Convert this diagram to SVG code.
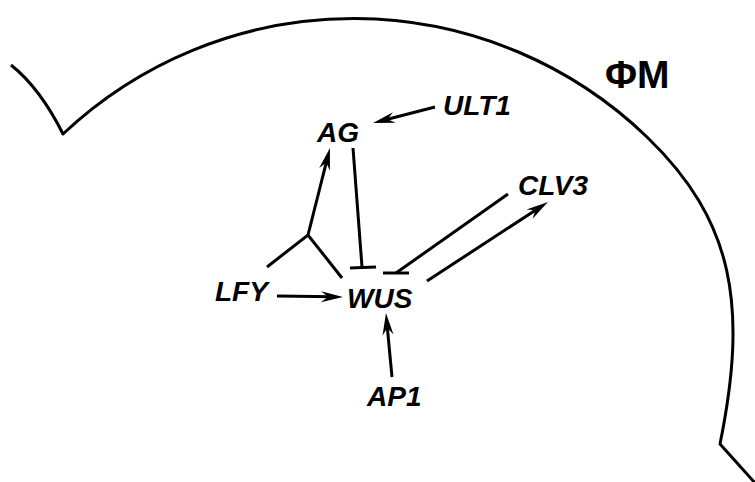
<svg xmlns="http://www.w3.org/2000/svg" width="755" height="482" viewBox="0 0 755 482">
  <style>
    .outline { fill: none; stroke: #000; stroke-width: 3; stroke-linejoin: round; }
    .edge { fill: none; stroke: #000; stroke-width: 3; stroke-linecap: butt; }
    .gene { font-family: "Liberation Sans", Arial, sans-serif; font-size: 28px; font-weight: bold; font-style: italic; fill: #000; }
    .region { font-family: "Liberation Sans", Arial, sans-serif; font-size: 39px; font-weight: bold; fill: #000; }
  </style>
  <defs>
    <marker id="arrow" markerUnits="userSpaceOnUse" viewBox="-23 -7 24 14" markerWidth="24" markerHeight="14" refX="-10" refY="0" orient="auto">
      <path d="M0,0 L-22,-5.5 L-15,0 L-22,5.5 Z" fill="#000"/>
    </marker>
  </defs>

  <rect width="755" height="482" fill="#fff"/>

  <!-- floral meristem outline -->
  <g id="meristem">
    <path class="outline" d="M11,65 Q40,88 63,134 A423,423 0 0 1 647,137 C734,221 748,306 720,444 L756,484"/>
  </g>

  <g id="label-FM"><text class="region" x="605" y="88">ΦM</text></g>

  <g id="AG"><text class="gene" x="317" y="142">AG</text></g>
  <g id="ULT1"><text class="gene" x="443" y="115">ULT1</text></g>
  <g id="CLV3"><text class="gene" x="518" y="195">CLV3</text></g>
  <g id="WUS"><text class="gene" x="347" y="308">WUS</text></g>
  <g id="LFY"><text class="gene" x="215" y="301">LFY</text></g>
  <g id="AP1"><text class="gene" x="367" y="406">AP1</text></g>

  <g id="connectors">
    <!-- ULT1 activates AG -->
    <line class="edge" x1="435" y1="107" x2="382.7" y2="120.5" marker-end="url(#arrow)"/>
    <!-- LFY branch: activates AG and WUS -->
    <polyline class="edge" points="267,267 308,235 342,278"/>
    <line class="edge" x1="308" y1="235" x2="327.5" y2="157.7" marker-end="url(#arrow)"/>
    <!-- AG represses WUS -->
    <line class="edge" x1="353" y1="148" x2="362" y2="267"/>
    <line class="edge" x1="350" y1="268" x2="376" y2="267"/>
    <!-- CLV3 represses WUS -->
    <line class="edge" x1="508" y1="194" x2="396" y2="273"/>
    <line class="edge" x1="383" y1="273" x2="409" y2="273"/>
    <!-- WUS activates CLV3 -->
    <line class="edge" x1="427" y1="281" x2="539.6" y2="207.5" marker-end="url(#arrow)"/>
    <!-- LFY activates WUS -->
    <line class="edge" x1="277" y1="296" x2="333" y2="296.8" marker-end="url(#arrow)"/>
    <!-- AP1 acts on WUS -->
    <line class="edge" x1="392" y1="377" x2="386.9" y2="323" marker-end="url(#arrow)"/>
  </g>
</svg>
